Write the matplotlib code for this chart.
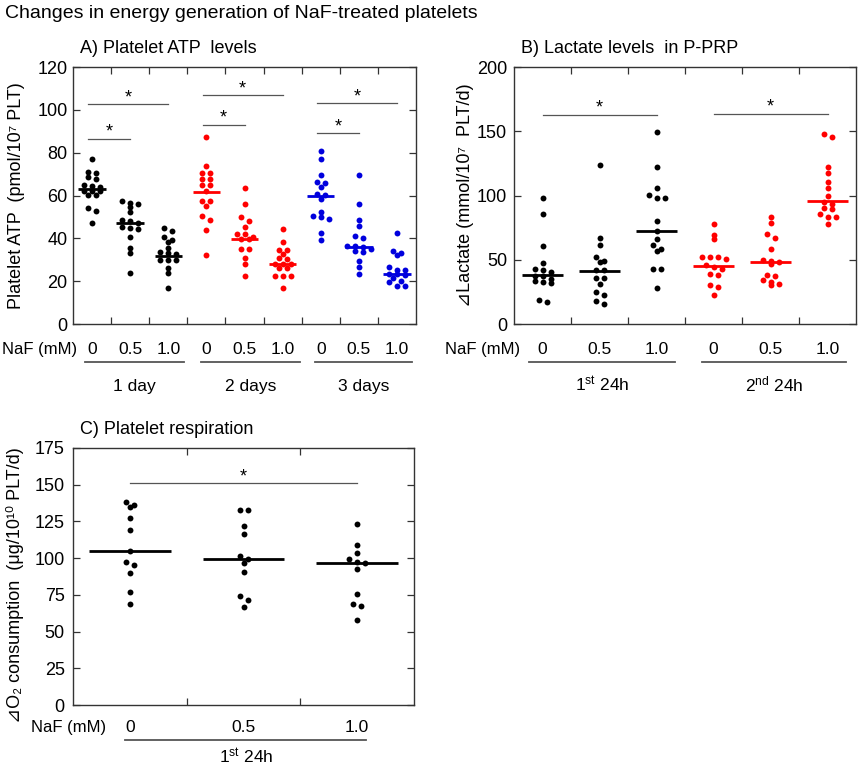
import numpy as np
import matplotlib
matplotlib.use('Agg')
import matplotlib.pyplot as plt
import matplotlib.transforms as mtransforms

plt.rcParams['font.family'] = ['Liberation Sans', 'DejaVu Sans']
plt.rcParams['mathtext.default'] = 'regular'

# A) Platelet ATP levels (pmol/10^7 PLT)
atp_doses = ['0', '0.5', '1.0'] * 3
atp_days = ['1 day', '2 days', '3 days']
atp_colors = ['black'] * 3 + ['#ff0000'] * 3 + ['#0000dd'] * 3
atp_values = [
    [77.0, 70.9, 70.6, 68.5, 67.7, 64.8, 64.3, 64.0, 62.3, 62.3, 62.0, 60.2, 60.2, 54.3, 52.6, 47.0],
    [57.6, 56.3, 56.0, 54.5, 52.1, 48.5, 48.2, 47.0, 45.1, 44.8, 44.5, 40.8, 35.3, 33.0, 24.0],
    [44.7, 43.2, 40.5, 39.0, 38.5, 35.4, 33.4, 33.0, 32.5, 30.0, 30.0, 29.7, 26.2, 23.8, 16.6],
    [87.3, 73.6, 70.6, 70.6, 67.5, 67.5, 65.0, 65.0, 62.0, 57.5, 57.5, 55.0, 50.2, 48.5, 44.0, 32.0],
    [63.4, 56.0, 49.8, 48.3, 45.5, 42.1, 42.0, 40.5, 39.6, 39.6, 35.0, 35.0, 30.6, 27.8, 22.2],
    [44.3, 38.2, 34.6, 34.6, 32.5, 30.6, 30.3, 28.0, 28.0, 28.0, 26.0, 26.0, 22.2, 22.2, 22.2, 17.0],
    [80.8, 76.9, 69.6, 66.1, 65.7, 63.8, 60.5, 60.3, 58.2, 52.5, 50.4, 49.8, 49.0, 42.6, 39.2],
    [69.6, 56.0, 48.6, 45.8, 41.2, 40.1, 36.5, 36.2, 36.0, 35.0, 34.0, 33.8, 29.6, 26.5, 23.3],
    [42.4, 34.2, 33.1, 32.3, 26.4, 25.0, 25.0, 23.5, 23.5, 23.0, 21.4, 20.3, 19.5, 17.9, 17.9],
]
atp_medians = [63.0, 47.0, 31.8, 61.5, 39.6, 28.0, 60.0, 36.0, 23.4]
atp_sig = [(1, 2, 86.5), (1, 3, 102.5), (4, 5, 92.9), (4, 6, 106.7), (7, 8, 89.0), (7, 9, 103.0)]

# B) Lactate levels in P-PRP (mmol/10^7 PLT/d)
lac_doses = ['0', '0.5', '1.0'] * 2
lac_periods = ['1$^{st}$ 24h', '2$^{nd}$ 24h']
lac_colors = ['black'] * 3 + ['#ff0000'] * 3
lac_values = [
    [98.3, 85.4, 60.8, 47.3, 42.8, 42.2, 40.1, 37.5, 37.0, 35.0, 33.1, 32.6, 32.0, 18.9, 16.8],
    [123.4, 67.3, 61.6, 52.5, 49.4, 47.9, 41.7, 41.7, 35.7, 35.7, 31.3, 25.1, 22.3, 17.6, 15.8],
    [149.5, 122.4, 105.6, 100.1, 98.3, 98.3, 80.2, 72.2, 66.2, 61.6, 58.5, 56.9, 42.9, 42.9, 27.7],
    [77.6, 69.3, 66.0, 52.0, 52.0, 52.0, 50.5, 46.0, 44.2, 42.9, 39.1, 38.3, 30.5, 28.5, 22.8],
    [83.1, 78.4, 70.1, 67.3, 58.5, 49.9, 49.4, 48.1, 46.6, 38.3, 37.0, 34.4, 32.6, 31.3, 30.3],
    [147.7, 145.7, 121.9, 117.7, 110.2, 105.6, 99.9, 95.2, 93.4, 90.0, 89.5, 85.6, 83.6, 83.1, 77.6],
]
lac_medians = [38.3, 41.5, 72.2, 45.5, 47.9, 95.5]
lac_sig = [(1, 3, 163.0), (4, 6, 163.8)]

# C) Platelet respiration (ug/10^10 PLT/d)
o2_doses = ['0', '0.5', '1.0']
o2_periods = ['1$^{st}$ 24h']
o2_values = [
    [138.2, 135.9, 134.8, 127.0, 119.1, 105.0, 97.3, 95.0, 90.2, 77.0, 68.9],
    [132.5, 132.5, 121.6, 116.6, 101.6, 99.3, 96.6, 90.9, 73.9, 71.4, 67.0],
    [123.4, 109.1, 103.4, 99.3, 97.5, 96.6, 92.5, 75.7, 69.1, 67.7, 58.0],
]
o2_medians = [105.2, 99.3, 96.6]
o2_sig = [(1, 3, 151.1)]


def swarm(vals, center, ppu_y, step, tol_px=4.0):
    # simple dot-plot layout: points close in y share a row, spread around the centre
    vals = np.asarray(vals)
    order = np.argsort(vals)[::-1]
    rows = []
    for i in order:
        if rows and (vals[rows[-1][0]] - vals[i]) * ppu_y < tol_px:
            rows[-1].append(i)
        else:
            rows.append([i])
    xs = np.zeros(len(vals))
    for row in rows:
        offs = (np.arange(len(row)) - (len(row) - 1) / 2) * step
        for o, i in zip(offs, row):
            xs[i] = center + o
    return xs


def panel(ax, values, medians, colors, doses, ymax, ystep, sig, groups, spans,
          title, ylabel, naf_x, lab_y, line_y, grp_y, ylab_x, ylab_y, tick_pad):
    n = len(values)
    ax.set_xlim(0.5, n + 0.5)
    ax.set_ylim(0, ymax)
    ax.set_yticks(np.arange(0, ymax + 1, ystep))
    ax.set_xticks(np.arange(1.5, n, 1.0))
    ax.tick_params(direction='in', top=True, right=True, length=5, width=0.9,
                   labelbottom=False, labelsize=13, pad=tick_pad, colors='#333333',
                   labelcolor='black')
    for s in ax.spines.values():
        s.set_color('#333333')
        s.set_linewidth(1.0)

    fig = ax.figure
    fig.canvas.draw()
    t = ax.transData
    ppu_y = t.transform((0, 1))[1] - t.transform((0, 0))[1]
    ppu_x = t.transform((1, 0))[0] - t.transform((0, 0))[0]
    step = 8.0 / ppu_x

    for k, (v, m, c) in enumerate(zip(values, medians, colors)):
        x0 = k + 1
        xs = swarm(v, x0, ppu_y, step)
        ax.scatter(xs, v, s=18, color=c, linewidths=0, zorder=3)
        ax.plot([x0 - 0.36, x0 + 0.36], [m, m], color=c, lw=2.0, zorder=4,
                solid_capstyle='butt')

    for a, b, y in sig:
        x1 = a - 0.1 if n == 9 else a
        ax.plot([x1, b], [y, y], color='#555555', lw=0.9)
        ax.annotate('*', xy=((x1 + b) / 2, y), xytext=(0, 1.5),
                    textcoords='offset points', ha='center', va='baseline', fontsize=13)

    bt = mtransforms.blended_transform_factory(ax.transData, ax.transAxes)
    for k, d in enumerate(doses):
        ax.text(k + 1, lab_y, d, transform=bt, ha='center', va='baseline', fontsize=12.5)
    ax.text(naf_x, lab_y, 'NaF (mM)', transform=ax.transAxes, ha='right', va='baseline',
            fontsize=12)
    for g, (a, b) in zip(groups, spans):
        ax.plot([a, b], [line_y, line_y], transform=bt, color='#555555', lw=1.3,
                clip_on=False)
        ax.text((a + b) / 2, grp_y, g, transform=bt, ha='center', va='baseline',
                fontsize=12.5)

    ax.text(0.02, 1.0 + 14.0 / 257.0, title, transform=ax.transAxes, ha='left',
            va='baseline', fontsize=13)
    ax.set_ylabel(ylabel, fontsize=13)
    ax.yaxis.label.set_va('center')
    ax.yaxis.set_label_coords(ylab_x, ylab_y)


fig = plt.figure(figsize=(8.58, 7.65), dpi=100)
fig.text(5 / 858, 1 - 18 / 765, 'Changes in energy generation of NaF-treated platelets',
         ha='left', va='baseline', fontsize=14)

axA = fig.add_axes([73 / 858, 1 - 324 / 765, 343 / 858, 257 / 765])
axB = fig.add_axes([514 / 858, 1 - 324 / 765, 342 / 858, 257 / 765])
axC = fig.add_axes([73 / 858, 1 - 705 / 765, 341 / 858, 257 / 765])

panel(axA, atp_values, atp_medians, atp_colors, atp_doses, 120, 20, atp_sig,
      atp_days, [(0.82, 3.4), (3.85, 6.45), (6.85, 9.4)],
      'A) Platelet ATP  levels', 'Platelet ATP  (pmol/10⁷ PLT)',
      0.012, -0.117, -0.147, -0.261, -0.165, 0.5, 4)
panel(axB, lac_values, lac_medians, lac_colors, lac_doses, 200, 50, lac_sig,
      lac_periods, [(0.76, 3.32), (3.8, 6.32)],
      'B) Lactate levels  in P-PRP', '⊿Lactate (mmol/10⁷  PLT/d)',
      0.018, -0.117, -0.147, -0.261, -0.142, 0.5, 5)
panel(axC, o2_values, o2_medians, ['black'] * 3, o2_doses, 175, 25, o2_sig,
      o2_periods, [(0.96, 3.08)],
      'C) Platelet respiration', '⊿O₂ consumption  (μg/10¹⁰ PLT/d)',
      0.097, -0.104, -0.136, -0.225, -0.169, 0.467, 6)

fig.savefig('out.png', dpi=100)
